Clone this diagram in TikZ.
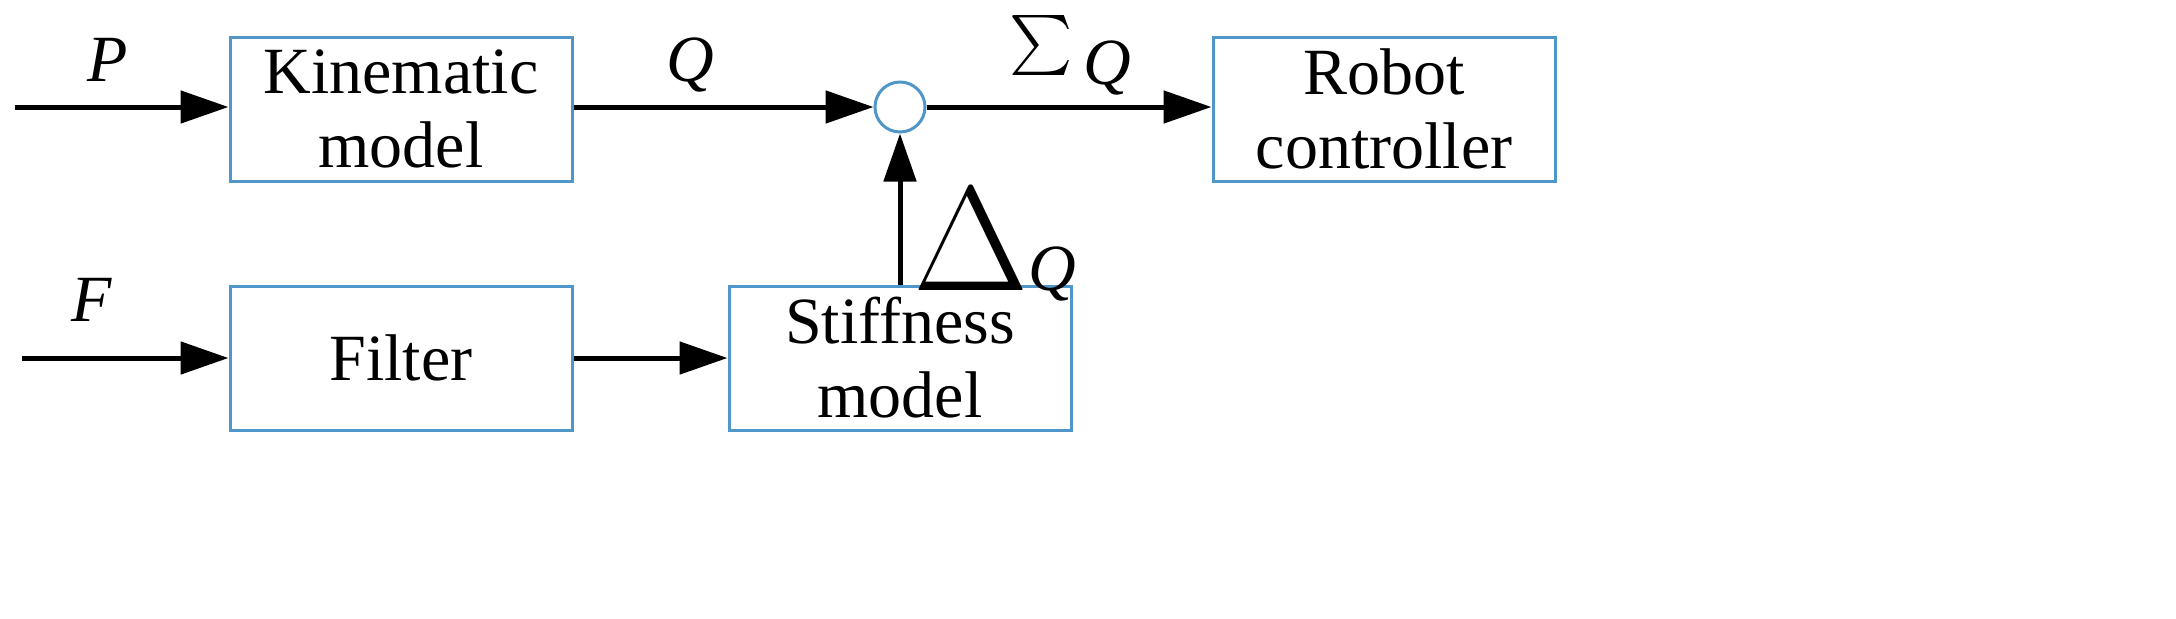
\documentclass[tikz,border=0pt]{standalone}
\usepackage{fontspec}
\setmainfont{Liberation Serif}
\usetikzlibrary{arrows.meta}
\definecolor{bx}{RGB}{80,150,200}
\begin{document}
\begin{tikzpicture}[x=0.5pt,y=-0.5pt,
  box/.style={draw=bx,line width=1.5pt,minimum width=171pt,minimum height=72pt,align=center,font=\fontsize{33}{37}\selectfont,inner sep=0pt},
  arr/.style={line width=2.5pt,-{Triangle[length=24pt,width=16pt]}},
  lab/.style={font=\fontsize{33}{37}\selectfont}]
\useasboundingbox (0,0) rectangle (2176,618);
\node[box] (kin) at (401,109) {Kinematic\\model};
\node[box] (rob) at (1384,109) {Robot\\controller};
\node[box] (fil) at (401,358) {Filter};
\node[box] (sti) at (900,358) {Stiffness\\model};
\node[draw=bx,line width=1.5pt,circle,minimum size=25pt,inner sep=0pt] (sum) at (900,107) {};
\coordinate (p0) at (15,107);
\coordinate (f0) at (22,358);
\draw[arr] (p0) -- (kin.west|-p0);
\draw[arr] (f0) -- (fil.west|-f0);
\draw[arr] (kin.east|-sum) -- (sum.west);
\draw[arr] (sum.east) -- (rob.west|-sum);
\draw[arr] (fil.east) -- (sti.west);
\draw[arr] (sti.north) -- (sum.south);
\node[lab] (lp) at (108,60) {\textit{P}};
\node[lab] (lf) at (92,300) {\textit{F}};
\node[lab] (lq) at (690,65) {\textit{Q}};
\node[lab] (ls) at (1070,55) {\raisebox{1pt}{\scalebox{3}{$\sum$}}\,\textit{Q}};
\node[lab] (ld) at (995,245) {\scalebox{3}{$\Delta$}\textit{Q}};
\end{tikzpicture}
\end{document}
